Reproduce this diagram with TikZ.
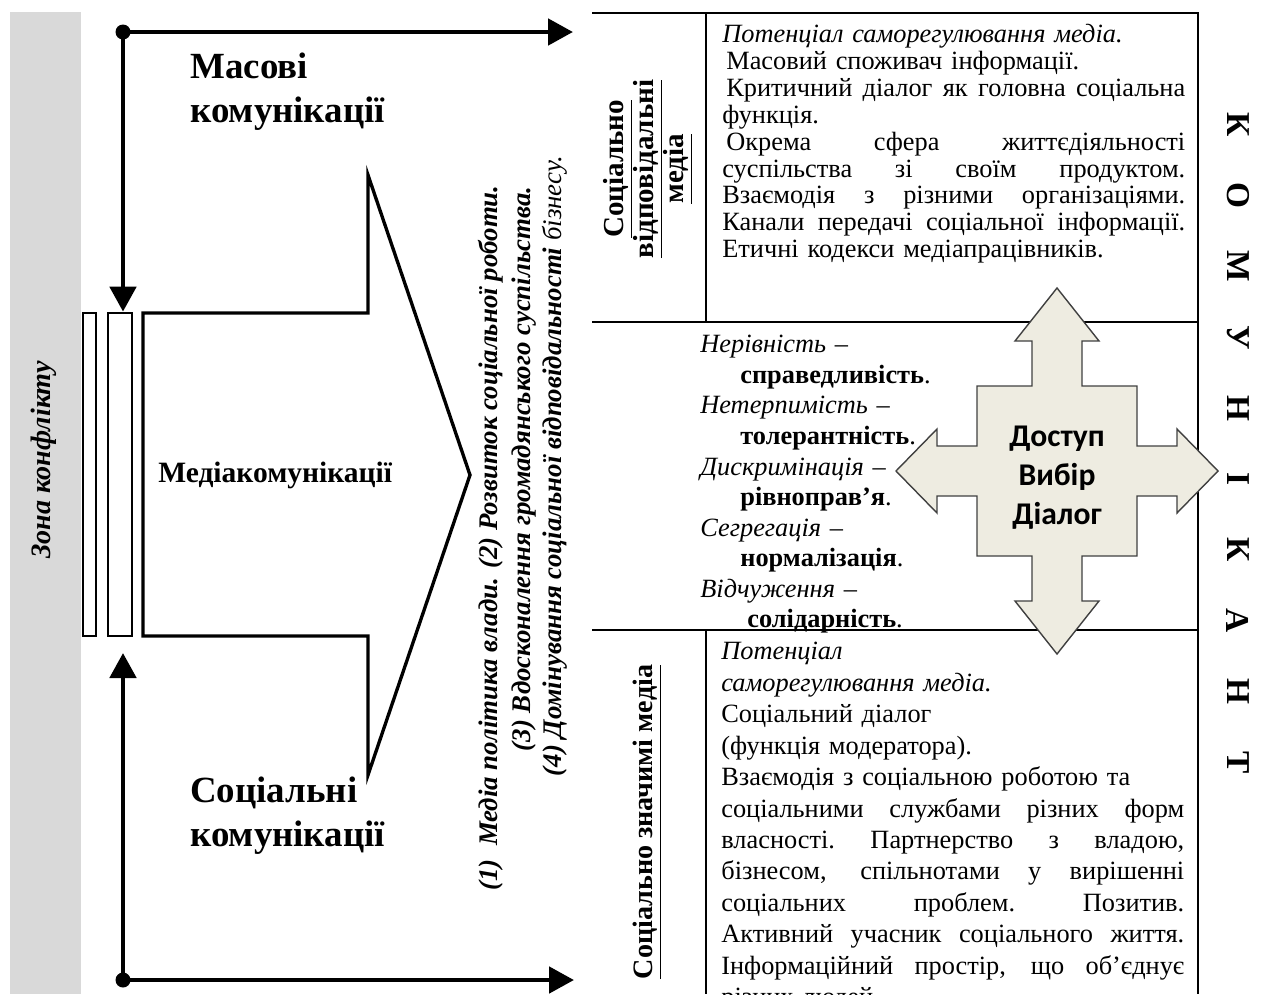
\documentclass[tikz,border=0pt]{standalone}
\usepackage{fontspec}
\setmainfont{Liberation Serif}
\newfontfamily\crossfont{Carlito}
\usetikzlibrary{arrows.meta, positioning, calc}
\definecolor{zonegray}{HTML}{D9D9D9}
\definecolor{crossfill}{HTML}{EEECE1}
\definecolor{crossline}{HTML}{404040}
\tikzstyle{flow} = [line width=2.8pt, -{Triangle[length=0.5cm, width=0.52cm]}]
\tikzstyle{slab} = [draw, line width=1.6pt, inner sep=0pt, fill=white]
\tikzstyle{dotstart} = [circle, fill, inner sep=0pt, minimum size=0.3cm]
\tikzstyle{tableline} = [line width=1.3pt]
\tikzstyle{bigfont} = [inner sep=0pt, align=left, font=\fontsize{21}{24.7}\selectfont\bfseries]
\tikzstyle{body} = [inner sep=0pt, align=left, text width=9.26cm, font=\fontsize{15}{15.3}\selectfont]
\tikzstyle{sidelabel} = [inner sep=0pt, align=center, font=\fontsize{16.5}{17}\selectfont\bfseries]
\tikzstyle{goal} = [rotate=90, anchor=base, inner sep=0pt, font=\fontsize{15.3}{18}\selectfont\bfseries\itshape]
\tikzstyle{kletter} = [rotate=-90, inner sep=0pt, font=\fontsize{19}{20}\selectfont\bfseries]
% justified line: spaces stretch to the full column width
\newcommand{\jl}[1]{{\spaceskip=0.25em plus 1fil\xspaceskip=0.25em plus 1fil\makebox[9.26cm][s]{#1}}}

\begin{document}
\begin{tikzpicture}[x=0.02cm, y=-0.02cm]
    \useasboundingbox (0,0) rectangle (1264,994);
    \clip (0,0) rectangle (1264,994);

    % conflict zone
    \fill[zonegray] (10,12) rectangle (81,994);
    \node[rotate=90, anchor=base, inner sep=0pt, font=\fontsize{16}{18}\selectfont\bfseries\itshape] (zone) at (51,460) {Зона конфлікту};

    % bars and media arrow
    \node[slab, minimum width=0.26cm, minimum height=6.46cm] (barA) at (89.5,474.5) {};
    \node[slab, minimum width=0.48cm, minimum height=6.46cm] (barB) at (120,474.5) {};
    \draw[line width=1.9pt, line join=miter] (143,313) -- (368,313) -- (368,175) -- (470,475) -- (368,775) -- (368,636) -- (143,636) -- cycle;
    \node[anchor=base west, inner sep=0pt, font=\fontsize{16.8}{18}\selectfont\bfseries] (media) at (158,482) {Медіакомунікації};

    % flows
    \node[dotstart] (topdot) at (123,32) {};
    \node[dotstart] (botdot) at (123,980) {};
    \coordinate (topend) at (573,32);
    \coordinate (botend) at (574,980);
    \coordinate (botup) at (123,653);
    \draw[flow] (topdot.center) -- (topend);
    \draw[flow] (topdot.center) -- (topdot.center |- barB.north);
    \draw[flow] (botdot.center) -- (botend);
    \draw[flow] (botdot.center) -- (botup);

    \node[bigfont, anchor=north west] (mass) at (190,53) {Масові\\комунікації};
    \node[bigfont, anchor=north west] (social) at (190,777) {Соціальні\\комунікації};

    % goals
    \node[goal] (goalA) at (497,538) {(1)\enspace Медіа політика влади. (2) Розвиток соціальної роботи.};
    \node[goal] (goalB) at (530,469) {(3) Вдосконалення громадянського суспільства.};
    \node[goal] (goalC) at (561,466) {(4) Домінування соціальної відповідальності {\mdseries бізнесу.}};

    % table
    \draw[tableline] (592,13) -- (1198,13) -- (1198,994);
    \draw[tableline] (592,322) -- (1198,322);
    \draw[tableline] (592,630) -- (1198,630);
    \draw[tableline] (706,13) -- (706,322);
    \draw[tableline] (706,630) -- (706,994);

    \node[sidelabel, rotate=90] (respLabel) at (648,169) {\underline{Соціально}\\\underline{відповідальні}\\\underline{медіа}};
    \node[sidelabel, rotate=90, font=\fontsize{16}{17}\selectfont\bfseries] (signLabel) at (647,822) {\underline{Соціально значимі медіа}};

    \node[body, anchor=north west] (respText) at (722,24) {%
        \textit{Потенціал саморегулювання медіа.}\\
        \hspace*{0.08cm}Масовий споживач інформації.\\
        \jl{\hspace*{0.08cm}Критичний діалог як головна соціальна}\\
        функція.\\
        \jl{\hspace*{0.08cm}Окрема сфера життєдіяльності}\\
        \jl{суспільства зі своїм продуктом.}\\
        \jl{Взаємодія з різними організаціями.}\\
        \jl{Канали передачі соціальної інформації.}\\
        Етичні кодекси медіапрацівників.};

    \node[body, anchor=north west, font=\fontsize{15}{17.4}\selectfont] (pairs) at (700,335) {%
        \textit{Нерівність –}\\
        \hspace*{0.8cm}\textbf{справедливість}.\\
        \textit{Нетерпимість –}\\
        \hspace*{0.8cm}\textbf{толерантність}.\\
        \textit{Дискримінація –}\\
        \hspace*{0.8cm}\textbf{рівноправ’я}.\\
        \textit{Сегрегація –}\\
        \hspace*{0.8cm}\textbf{нормалізація}.\\
        \textit{Відчуження –}\\
        \hspace*{0.94cm}\textbf{солідарність}.};

    \node[body, anchor=north west, font=\fontsize{15}{17.9}\selectfont] (signText) at (721,642) {%
        \textit{Потенціал}\\
        \textit{саморегулювання медіа.}\\
        Соціальний діалог\\
        (функція модератора).\\
        Взаємодія з соціальною роботою та\\
        \jl{соціальними службами різних форм}\\
        \jl{власності. Партнерство з владою,}\\
        \jl{бізнесом, спільнотами у вирішенні}\\
        \jl{соціальних проблем. Позитив.}\\
        \jl{Активний учасник соціального життя.}\\
        \jl{Інформаційний простір, що об’єднує}\\
        різних людей.};

    % access cross
    \begin{scope}[shift={(1057,471)}]
        \draw[fill=crossfill, draw=crossline, line width=0.8pt, line join=miter]
            (0,-183) -- (42,-130) -- (25,-130) -- (25,-85) -- (80,-85) -- (80,-25) -- (120,-25) -- (120,-42)
            -- (161,0) -- (120,42) -- (120,25) -- (80,25) -- (80,85) -- (25,85) -- (25,130) -- (42,130)
            -- (0,183) -- (-42,130) -- (-25,130) -- (-25,85) -- (-80,85) -- (-80,25) -- (-120,25) -- (-120,42)
            -- (-161,0) -- (-120,-42) -- (-120,-25) -- (-80,-25) -- (-80,-85) -- (-25,-85) -- (-25,-130) -- (-42,-130) -- cycle;
    \end{scope}
    \node[align=center, inner sep=0pt, font=\crossfont\fontsize{18}{22.2}\selectfont\bfseries] (cross) at (1057,478) {Доступ\\Вибір\\Діалог};

    % communicant
    \foreach \ch [count=\i from 0] in {К,О,М,У,Н,І,К,А,Н,Т}
        \node[kletter] (k\i) at (1238,{125+70.8*\i}) {\ch};
\end{tikzpicture}
\end{document}
